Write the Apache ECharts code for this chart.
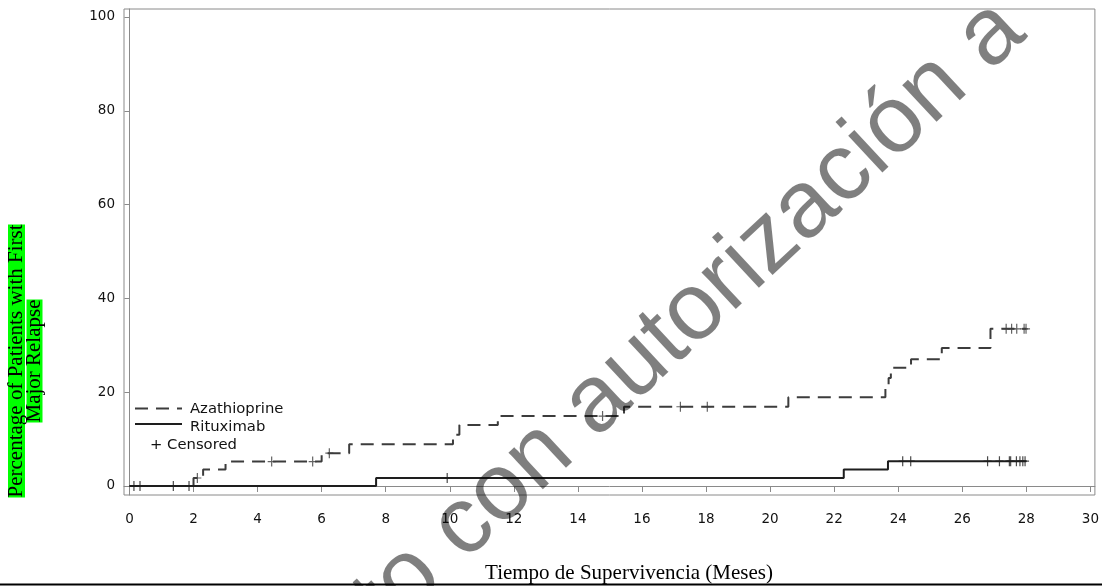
<!DOCTYPE html>
<html><head><meta charset="utf-8">
<script src="https://cdn.jsdelivr.net/npm/echarts@6/dist/echarts.min.js"></script>
<style>html,body{margin:0;padding:0;background:#fff}#c{width:1102px;height:586px}</style>
</head><body><div id="c"></div>
<script>
const xTickValues = [0,2,4,6,8,10,12,14,16,18,20,22,24,26,28,30];
const yTickValues = [0,20,40,60,80,100];
const seriesNames = ['Azathioprine','Rituximab'];
const azaTimes = [0, 2.0, 2.3, 3.0, 6.0, 6.86, 10.1, 10.3, 11.5, 15.44, 20.57, 23.6, 23.7, 23.77, 24.4, 25.36, 26.88, 28.0];
const azaPct   = [0, 1.7, 3.5, 5.2, 7.0, 8.9, 10.9, 13.0, 14.9, 16.9, 18.9, 20.9, 23.0, 25.2, 27.0, 29.4, 33.5, 33.5];
const rituxTimes = [0, 7.7, 22.3, 23.68, 28.0];
const rituxPct   = [0, 1.7, 3.5, 5.3, 5.3];
const azaCensored = [2.12, 4.44, 5.72, 6.24, 14.77, 17.2, 18.04, 27.37, 27.54, 27.7, 27.93, 27.99];
const rituxCensored = [0.14, 0.33, 1.37, 1.86, 9.92, 24.14, 24.39, 26.79, 27.16, 27.47, 27.51, 27.69, 27.8, 27.89, 27.96];
const xTitle = 'Tiempo de Supervivencia (Meses)';
const yTitleLines = ['Percentage of Patients with First', 'Major Relapse'];
const censoredLabel = 'Censored';
const watermarkText = 'to con autorización a';

function stepAt(times, pct, t) {
  let v = pct[0];
  for (let i = 0; i < times.length; i++) if (times[i] <= t) v = pct[i];
  return v;
}
const pairs = (a, b) => a.map((t, i) => [t, b[i]]);
const plusPath = 'path://M-0.6,-5L0.6,-5L0.6,-0.6L4,-0.6L4,0.6L0.6,0.6L0.6,5L-0.6,5L-0.6,0.6L-4,0.6L-4,-0.6L-0.6,-0.6Z';
const AZA_COLOR = '#3c3c3c', RIT_COLOR = '#1e1e1e';
const tickFont = 'DejaVu Sans';
const legendFont = '14.8px "DejaVu Sans"';

const chart = echarts.init(document.getElementById('c'), null, {renderer: 'canvas'});
chart.setOption({
  animation: false,
  backgroundColor: '#fff',
  grid: {left: 124, top: 9, right: 7, bottom: 91, show: true, borderColor: '#8a8a8a', borderWidth: 1},
  xAxis: {
    type: 'value', min: -0.17, max: 30.14,
    axisLine: {show: true, lineStyle: {color: '#8a8a8a', width: 1}},
    axisTick: {show: true, length: 6, customValues: xTickValues, lineStyle: {color: '#8a8a8a'}},
    axisLabel: {customValues: xTickValues, fontFamily: tickFont, fontSize: 13.5, color: '#111', margin: 17},
    splitLine: {show: false}
  },
  yAxis: {
    type: 'value', min: -1.92, max: 101.7,
    axisLine: {show: true, lineStyle: {color: '#8a8a8a', width: 1}},
    axisTick: {show: true, length: 5, customValues: yTickValues, lineStyle: {color: '#8a8a8a'}},
    axisLabel: {customValues: yTickValues, fontFamily: tickFont, fontSize: 13.5, color: '#111', margin: 9, padding: [4, 0, 0, 0]},
    splitLine: {show: false}
  },
  series: [
    {name: seriesNames[0], type: 'line', step: 'end', showSymbol: false, z: 3,
     data: pairs(azaTimes, azaPct),
     lineStyle: {color: AZA_COLOR, width: 2, type: [13, 8]}},
    {name: seriesNames[1], type: 'line', step: 'end', showSymbol: false, z: 3,
     data: pairs(rituxTimes, rituxPct),
     lineStyle: {color: RIT_COLOR, width: 2}},
    {name: seriesNames[0] + ' censored', type: 'scatter', symbol: plusPath, symbolSize: [8, 10], z: 4,
     data: azaCensored.map(t => [t, stepAt(azaTimes, azaPct, t)]),
     itemStyle: {color: AZA_COLOR}},
    {name: seriesNames[1] + ' censored', type: 'scatter', symbol: plusPath, symbolSize: [8, 10], z: 4,
     data: rituxCensored.map(t => [t, stepAt(rituxTimes, rituxPct, t)]),
     itemStyle: {color: RIT_COLOR}}
  ],
  graphic: [
    {type: 'line', shape: {x1: 135, y1: 408.5, x2: 182, y2: 408.5}, style: {stroke: AZA_COLOR, lineWidth: 2, lineDash: [13, 8]}},
    {type: 'text', x: 190, y: 409.5, style: {text: seriesNames[0], font: legendFont, fill: '#111', textVerticalAlign: 'middle'}},
    {type: 'line', shape: {x1: 135, y1: 424, x2: 182, y2: 424}, style: {stroke: RIT_COLOR, lineWidth: 2}},
    {type: 'text', x: 190, y: 427, style: {text: seriesNames[1], font: legendFont, fill: '#111', textVerticalAlign: 'middle'}},
    {type: 'text', x: 150, y: 445, style: {text: '+ ' + censoredLabel, font: legendFont, fill: '#111', textVerticalAlign: 'middle'}},
    {type: 'text', x: 629, y: 573, style: {text: xTitle, font: '21px "Liberation Serif"', fill: '#000', textAlign: 'center', textVerticalAlign: 'middle'}},
    {type: 'line', shape: {x1: 0, y1: 584.5, x2: 1102, y2: 584.5}, style: {stroke: '#000', lineWidth: 2}},
    {type: 'text', x: 16.5, y: 361, rotation: Math.PI / 2, style: {text: yTitleLines[0], font: '21px "Liberation Serif"', fill: '#000', textAlign: 'center', textVerticalAlign: 'middle', backgroundColor: '#00ff00', lineHeight: 17}},
    {type: 'text', x: 34.5, y: 361, rotation: Math.PI / 2, style: {text: yTitleLines[1], font: '21px "Liberation Serif"', fill: '#000', textAlign: 'center', textVerticalAlign: 'middle', backgroundColor: '#00ff00', lineHeight: 16}},
    {type: 'text', x: 690, y: 316, rotation: 43 * Math.PI / 180, z: 100, style: {text: watermarkText, font: '95px "Liberation Sans"', fill: 'rgba(0,0,0,0.5)', textAlign: 'center', textVerticalAlign: 'middle'}}
  ]
});
</script></body></html>
